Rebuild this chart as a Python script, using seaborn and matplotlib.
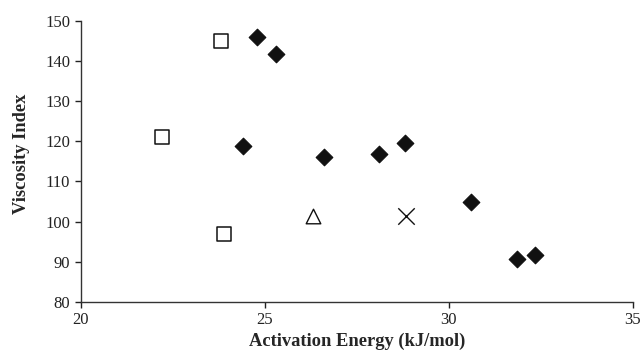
import pandas as pd
import matplotlib
matplotlib.use('Agg')
import matplotlib.pyplot as plt
import seaborn as sns

# Values
diamond_x = [24.8, 25.3, 24.4, 26.6, 28.1, 28.8, 30.6, 31.85, 32.35]
diamond_y = [146, 141.7, 118.8, 116.2, 116.9, 119.7, 104.8, 90.6, 91.7]
square_x = [23.8, 22.2, 23.9]
square_y = [145, 121, 96.9]
triangle_x = [26.3]
triangle_y = [101.4]
cross_x = [28.85]
cross_y = [101.4]

sns.set_style('ticks')
plt.rcParams['font.family'] = ['Liberation Serif', 'DejaVu Serif']
plt.rcParams['font.size'] = 12

fig = plt.figure(figsize=(6.43, 3.56), dpi=100)
ax = fig.add_axes([0.1255, 0.1525, 0.8585, 0.7885])

sns.scatterplot(x=diamond_x, y=diamond_y, marker='D', s=72, color='#111111',
                edgecolor='#111111', linewidth=0.8, ax=ax)
sns.scatterplot(x=square_x, y=square_y, marker='s', s=105, facecolor='white',
                edgecolor='#111111', linewidth=1.1, ax=ax)
sns.scatterplot(x=triangle_x, y=triangle_y, marker='^', s=110, facecolor='white',
                edgecolor='#111111', linewidth=1.0, ax=ax)
sns.scatterplot(x=cross_x, y=cross_y, marker='x', s=140, color='#111111',
                linewidth=1.0, ax=ax)

ax.set_xlim(20, 35)
ax.set_ylim(80, 150)
ax.set_xticks([20, 25, 30, 35])
ax.set_yticks(range(80, 151, 10))
ax.set_xlabel('Activation Energy (kJ/mol)', fontweight='bold', fontsize=13.3, labelpad=3)
ax.set_ylabel('Viscosity Index', fontweight='bold', fontsize=13.3)
ax.yaxis.set_label_coords(-0.091, 0.527)
ax.tick_params(axis='both', direction='out', length=4.5, width=1, colors='#222222',
               labelsize=12, labelcolor='#222222', pad=3)
for side in ['left', 'bottom']:
    ax.spines[side].set_color('#333333')
    ax.spines[side].set_linewidth(1)
sns.despine(ax=ax)

fig.savefig('out.png', dpi=100)
